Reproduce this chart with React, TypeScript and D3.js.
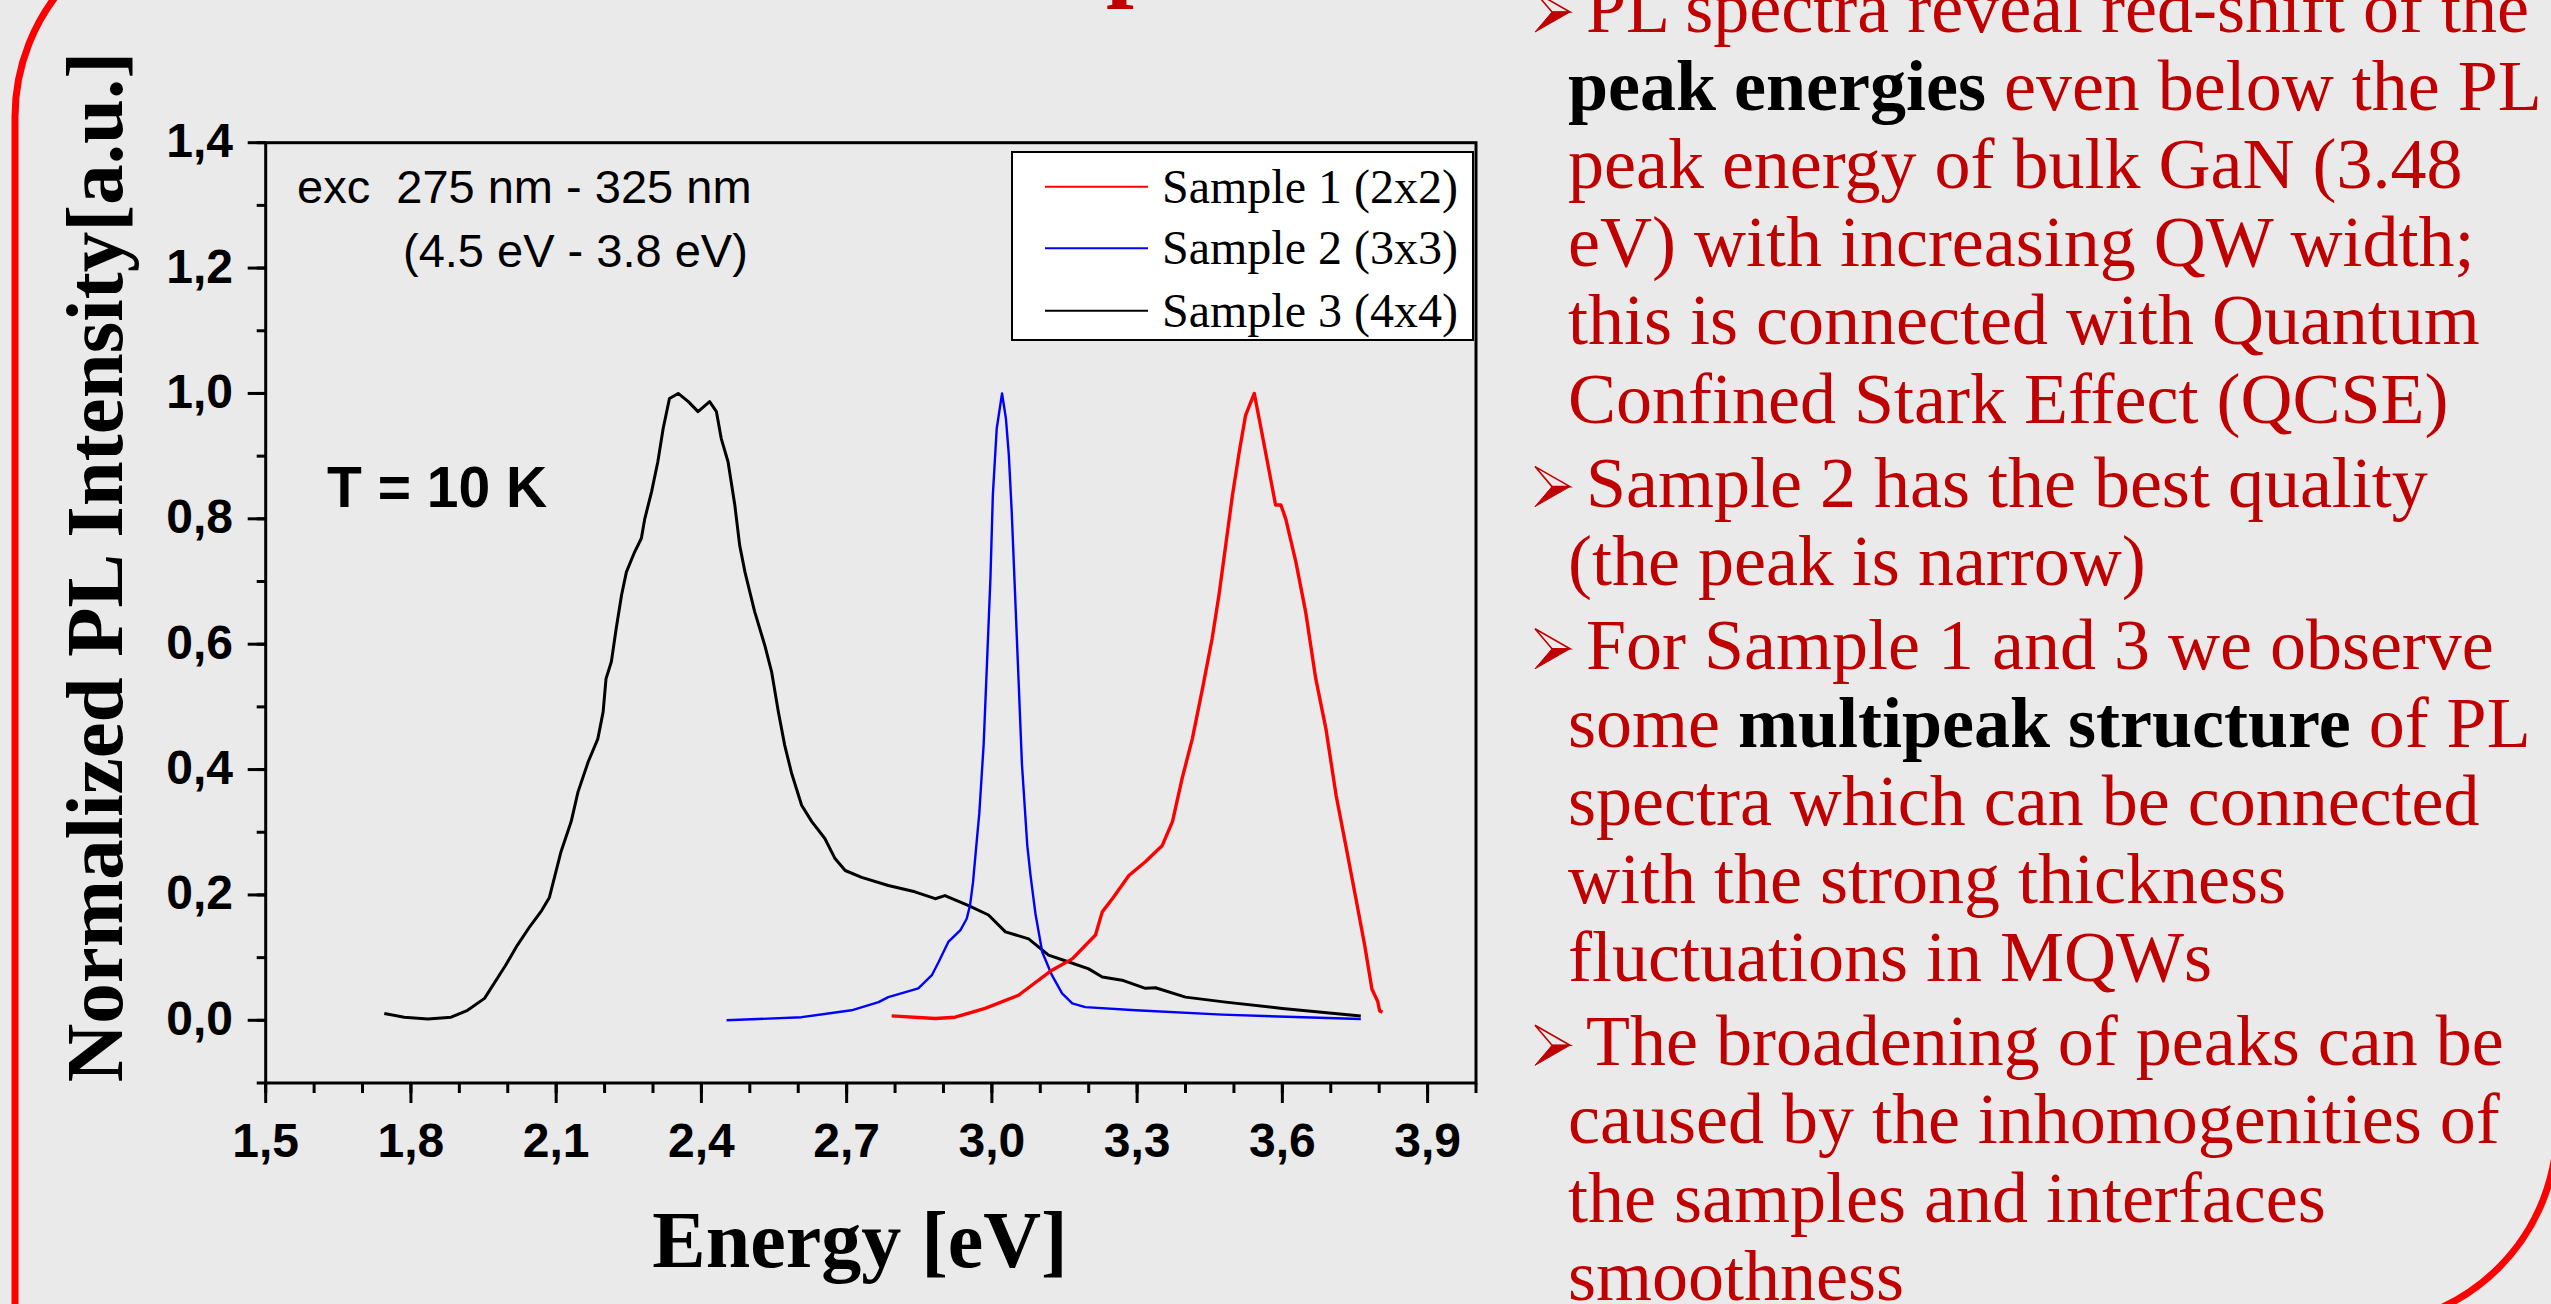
import React from 'react';
import * as d3 from 'd3';

const W = 2551;
const H = 1304;

// ---- data ----
const xTickValues = [1.5, 1.8, 2.1, 2.4, 2.7, 3.0, 3.3, 3.6, 3.9];
const yTickValues = [0, 0.2, 0.4, 0.6, 0.8, 1.0, 1.2, 1.4];
const xMinorValues = d3.range(15, 41).map((v) => v / 10);
const yMinorValues = d3.range(-1, 15).map((v) => v / 10);

const seriesNames = ['Sample 1 (2x2)', 'Sample 2 (3x3)', 'Sample 3 (4x4)'];
const seriesColors = ['#ff0000', '#0000ff', '#000000'];

const sample1Energy = [2.793, 2.883, 2.924, 2.986, 3.055, 3.124, 3.166, 3.214, 3.228, 3.25, 3.283, 3.317, 3.352, 3.373, 3.393, 3.414, 3.435, 3.455, 3.469, 3.483, 3.497, 3.511, 3.524, 3.542, 3.556, 3.573, 3.586, 3.597, 3.607, 3.628, 3.648, 3.669, 3.69, 3.711, 3.731, 3.752, 3.77, 3.785, 3.797, 3.801, 3.807];
const sample1Intensity = [0.007, 0.003, 0.005, 0.019, 0.04, 0.08, 0.098, 0.136, 0.173, 0.195, 0.231, 0.253, 0.279, 0.317, 0.386, 0.449, 0.529, 0.609, 0.678, 0.758, 0.838, 0.907, 0.965, 1.0, 0.944, 0.875, 0.822, 0.822, 0.8, 0.731, 0.652, 0.545, 0.465, 0.359, 0.279, 0.194, 0.12, 0.05, 0.03, 0.015, 0.013];

const sample2Energy = [2.452, 2.607, 2.71, 2.766, 2.786, 2.848, 2.876, 2.89, 2.91, 2.935, 2.948, 2.955, 2.961, 2.968, 2.974, 2.983, 2.99, 2.997, 3.002, 3.01, 3.021, 3.029, 3.035, 3.041, 3.048, 3.055, 3.062, 3.073, 3.08, 3.09, 3.104, 3.124, 3.145, 3.166, 3.193, 3.297, 3.476, 3.762];
const sample2Intensity = [0.0, 0.005, 0.016, 0.029, 0.037, 0.051, 0.072, 0.093, 0.125, 0.144, 0.162, 0.184, 0.22, 0.28, 0.33, 0.44, 0.572, 0.705, 0.838, 0.944, 1.0, 0.96, 0.902, 0.811, 0.678, 0.545, 0.41, 0.28, 0.23, 0.17, 0.109, 0.072, 0.043, 0.027, 0.021, 0.016, 0.009, 0.002];

const sample3Energy = [1.745, 1.786, 1.835, 1.883, 1.917, 1.952, 1.995, 2.02, 2.046, 2.07, 2.086, 2.11, 2.131, 2.145, 2.166, 2.186, 2.197, 2.203, 2.214, 2.224, 2.235, 2.245, 2.262, 2.276, 2.283, 2.297, 2.31, 2.321, 2.334, 2.352, 2.373, 2.393, 2.417, 2.431, 2.441, 2.455, 2.469, 2.479, 2.49, 2.51, 2.531, 2.545, 2.559, 2.572, 2.586, 2.607, 2.628, 2.655, 2.676, 2.697, 2.731, 2.786, 2.841, 2.883, 2.903, 2.952, 2.993, 3.028, 3.076, 3.117, 3.159, 3.2, 3.228, 3.269, 3.317, 3.338, 3.4, 3.483, 3.6, 3.762];
const sample3Intensity = [0.011, 0.005, 0.002, 0.005, 0.016, 0.035, 0.087, 0.12, 0.15, 0.175, 0.196, 0.269, 0.317, 0.364, 0.412, 0.449, 0.492, 0.545, 0.572, 0.625, 0.678, 0.715, 0.747, 0.769, 0.8, 0.843, 0.891, 0.944, 0.992, 1.0, 0.987, 0.971, 0.987, 0.971, 0.928, 0.891, 0.822, 0.758, 0.715, 0.652, 0.598, 0.556, 0.492, 0.439, 0.395, 0.343, 0.317, 0.29, 0.258, 0.239, 0.228, 0.215, 0.205, 0.194, 0.199, 0.183, 0.168, 0.141, 0.13, 0.104, 0.093, 0.082, 0.069, 0.064, 0.051, 0.052, 0.037, 0.029, 0.019, 0.007];

const seriesEnergy = [sample1Energy, sample2Energy, sample3Energy];
const seriesIntensity = [sample1Intensity, sample2Intensity, sample3Intensity];

const annotationLines = ['exc  275 nm - 325 nm', '(4.5 eV - 3.8 eV)'];
const temperatureLabel = 'T = 10 K';
const xAxisTitle = 'Energy [eV]';
const yAxisTitle = 'Normalized PL Intensity[a.u.]';

// right-hand bullet text: [text, bold]
type Seg = [string, boolean];
const bulletParagraphs: Seg[][][] = [
  [
    [['PL spectra reveal red-shift of the', false]],
    [['peak energies', true], [' even below the PL', false]],
    [['peak energy of bulk GaN (3.48', false]],
    [['eV) with increasing QW width;', false]],
    [['this is connected with Quantum', false]],
    [['Confined Stark Effect (QCSE)', false]],
  ],
  [
    [['Sample 2 has the best quality', false]],
    [['(the peak is narrow)', false]],
  ],
  [
    [['For Sample 1 and 3 we observe', false]],
    [['some ', false], ['multipeak structure', true], [' of PL', false]],
    [['spectra which can be connected', false]],
    [['with the strong thickness', false]],
    [['fluctuations in MQWs', false]],
  ],
  [
    [['The broadening of peaks can be', false]],
    [['caused by the inhomogenities of', false]],
    [['the samples and interfaces', false]],
    [['smoothness', false]],
  ],
];

const SERIF = '"Liberation Serif", "Times New Roman", serif';
const SANS = '"Liberation Sans", Arial, sans-serif';
const DARK_RED = '#c00000';

export default function App() {
  const plotLeft = 265.7;
  const plotRight = 1476;
  const plotTop = 142.7;
  const plotBottom = 1083;

  const x = d3.scaleLinear().domain([1.5, 4.0]).range([plotLeft, plotRight]);
  const y = d3.scaleLinear().domain([-0.1, 1.4]).range([plotBottom, plotTop]);
  const fmt = (v: number) => d3.format('.1f')(v).replace('.', ',');

  const line = d3
    .line<[number, number]>()
    .x((d) => x(d[0]))
    .y((d) => y(d[1]))
    .curve(d3.curveLinear);

  const seriesPaths = seriesEnergy.map((es, i) =>
    line(es.map((e, j) => [e, seriesIntensity[i][j]] as [number, number]))
  );

  // bullet text layout
  const textLines: { segs: Seg[]; bullet: boolean; baseline: number }[] = [];
  let lineIdx = 0;
  bulletParagraphs.forEach((para, p) => {
    para.forEach((segs, k) => {
      textLines.push({ segs, bullet: k === 0, baseline: 32 + 78.1 * lineIdx + 6 * p });
      lineIdx++;
    });
  });

  const legendX = 1012;
  const legendY = 152;
  const legendW = 461;
  const legendH = 188;
  const legendRows = [186.7, 248.3, 310.7];

  // slide frame: only the top-left and bottom-right rounded corners are inside the picture
  const frameR = 199;
  const framePath =
    `M 15 1400 L 15 ${-82 + frameR} A ${frameR} ${frameR} 0 0 1 ${15 + frameR} -82 L 2400 -82 ` +
    `M 2557 ${1326 - frameR} A ${frameR} ${frameR} 0 0 1 ${2557 - frameR} 1326 L 100 1326`;

  return (
    <svg
      width={W}
      height={H}
      viewBox={`0 0 ${W} ${H}`}
      style={{ position: 'fixed', left: 0, top: 0, display: 'block' }}
    >
      <rect x={0} y={0} width={W} height={H} fill="#eaeaea" />

      {/* slide frame */}
      <path d={framePath} fill="none" stroke="#ff0000" strokeWidth={7} />

      {/* cut-off title glyph */}
      <text x={1106} y={-12} fontFamily={SERIF} fontWeight="bold" fontSize={100} fill={DARK_RED}>p</text>

      {/* series */}
      {[2, 1, 0].map((i) => (
        <path
          key={i}
          d={seriesPaths[i] || ''}
          fill="none"
          stroke={seriesColors[i]}
          strokeWidth={i === 0 ? 3.4 : i === 1 ? 2.4 : 3}
          strokeLinejoin="round"
        />
      ))}

      {/* frame */}
      <rect x={plotLeft} y={plotTop} width={plotRight - plotLeft} height={plotBottom - plotTop} fill="none" stroke="#000" strokeWidth={3} />

      {/* x ticks */}
      {xMinorValues.map((v) => (
        <line key={'xm' + v} x1={x(v)} x2={x(v)} y1={plotBottom} y2={plotBottom + 10} stroke="#000" strokeWidth={3} />
      ))}
      {xTickValues.map((v) => (
        <g key={'x' + v}>
          <line x1={x(v)} x2={x(v)} y1={plotBottom} y2={plotBottom + 20} stroke="#000" strokeWidth={3} />
          <text x={x(v)} y={1157} textAnchor="middle" fontFamily={SANS} fontWeight="bold" fontSize={48} fill="#000">
            {fmt(v)}
          </text>
        </g>
      ))}

      {/* y ticks */}
      {yMinorValues.map((v) => (
        <line key={'ym' + v} x1={plotLeft - 9} x2={plotLeft} y1={y(v)} y2={y(v)} stroke="#000" strokeWidth={3} />
      ))}
      {yTickValues.map((v) => (
        <g key={'y' + v}>
          <line x1={plotLeft - 18} x2={plotLeft} y1={y(v)} y2={y(v)} stroke="#000" strokeWidth={3} />
          <text x={233} y={y(v) + 14.5} textAnchor="end" fontFamily={SANS} fontWeight="bold" fontSize={48} fill="#000">
            {fmt(v)}
          </text>
        </g>
      ))}

      {/* axis titles */}
      <text x={860} y={1267} textAnchor="middle" fontFamily={SERIF} fontWeight="bold" fontSize={80} fill="#000">
        {xAxisTitle}
      </text>
      <text
        transform="translate(122,567) rotate(-90)"
        textAnchor="middle"
        fontFamily={SERIF}
        fontWeight="bold"
        fontSize={81}
        fill="#000"
      >
        {yAxisTitle}
      </text>

      {/* annotations */}
      <text x={297} y={203} fontFamily={SANS} fontSize={47} fill="#000" style={{ whiteSpace: 'pre' }}>
        {annotationLines[0]}
      </text>
      <text x={403} y={267} fontFamily={SANS} fontSize={47} fill="#000" style={{ whiteSpace: 'pre' }}>
        {annotationLines[1]}
      </text>
      <text x={327} y={507} fontFamily={SANS} fontWeight="bold" fontSize={57} fill="#000">
        {temperatureLabel}
      </text>

      {/* legend */}
      <rect x={legendX} y={legendY} width={legendW} height={legendH} fill="#ffffff" stroke="#000" strokeWidth={2} />
      {seriesNames.map((name, i) => (
        <g key={name}>
          <line x1={1045} x2={1148} y1={legendRows[i]} y2={legendRows[i]} stroke={seriesColors[i]} strokeWidth={2} />
          <text x={1162} y={legendRows[i] + 16} fontFamily={SERIF} fontSize={48} fill="#000">
            {name}
          </text>
        </g>
      ))}

      {/* bullet text */}
      {textLines.map((ln, i) => {
        const b = ln.baseline;
        return (
          <g key={'t' + i}>
            {ln.bullet && (
              <g>
                <polygon points={`1535,${b - 40} 1570,${b - 20} 1552,${b - 20}`} fill="none" stroke={DARK_RED} strokeWidth={1.6} strokeLinejoin="miter" />
                <polygon points={`1535,${b} 1570,${b - 20} 1552,${b - 20}`} fill={DARK_RED} stroke={DARK_RED} strokeWidth={1} />
              </g>
            )}
            <text x={ln.bullet ? 1586 : 1568} y={b} fontFamily={SERIF} fontSize={72} fill={DARK_RED} style={{ whiteSpace: 'pre' }}>
              {ln.segs.map((s, k) => (
                <tspan key={k} fontWeight={s[1] ? 'bold' : 'normal'} fill={s[1] ? '#000' : DARK_RED}>
                  {s[0]}
                </tspan>
              ))}
            </text>
          </g>
        );
      })}
    </svg>
  );
}
